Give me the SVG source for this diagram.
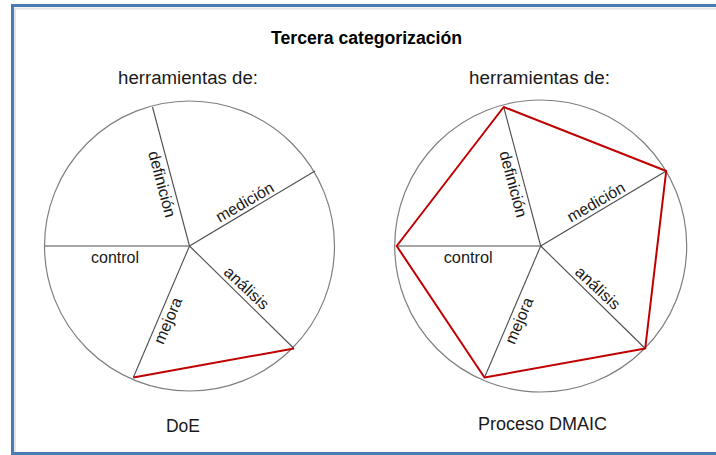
<svg xmlns="http://www.w3.org/2000/svg" width="716" height="455" viewBox="0 0 716 455">
<style>
.frame{fill:#ffffff;stroke:#4a7bb3;stroke-width:3}
.circ{fill:none;stroke:#7f7f7f;stroke-width:1.2}
.spoke{fill:none;stroke:#4d4d4d;stroke-width:1.1}
.red{fill:none;stroke:#c00000;stroke-width:2;stroke-linejoin:round}
.head{font-family:"Liberation Sans",Arial,sans-serif;font-size:18px;fill:#1a1a1a;text-anchor:middle}
.title{font-family:"Liberation Sans",Arial,sans-serif;font-size:17.5px;font-weight:bold;fill:#000;text-anchor:middle}
.lbl{font-family:"Liberation Sans",Arial,sans-serif;font-size:16px;fill:#1a1a1a;text-anchor:middle}
</style>
<rect width="716" height="455" fill="#ffffff"/>
<rect class="frame" x="12.5" y="5.5" width="720" height="448"/>
<path d="M15 452 V8.5 H716" fill="none" stroke="#e4e4e4" stroke-width="2"/>

<g id="title">
<text class="title" x="366.5" y="44" textLength="191" lengthAdjust="spacingAndGlyphs">Tercera categorización</text>
</g>

<g id="left">
<text class="head" x="188" y="84" textLength="140" lengthAdjust="spacingAndGlyphs">herramientas de:</text>
<circle class="circ" cx="189.5" cy="246" r="145"/>
<g class="connectors">
<line class="spoke" x1="189.5" y1="246" x2="152.5" y2="107"/>
<line class="spoke" x1="189.5" y1="246" x2="315" y2="171"/>
<line class="spoke" x1="189.5" y1="246" x2="294" y2="348.5"/>
<line class="spoke" x1="189.5" y1="246" x2="133.3" y2="377.5"/>
<line class="spoke" x1="189.5" y1="246" x2="45" y2="246"/>
<line class="red" x1="133.3" y1="377.5" x2="294" y2="348.5"/>
</g>
<g id="left-labels">
<text class="lbl" transform="translate(161.7 184.3) rotate(75)" y="5" textLength="68" lengthAdjust="spacingAndGlyphs">definición</text>
<text class="lbl" transform="translate(245 202.5) rotate(-30)" y="5" textLength="64" lengthAdjust="spacingAndGlyphs">medición</text>
<text class="lbl" transform="translate(246.3 288.3) rotate(43)" y="5" textLength="55" lengthAdjust="spacingAndGlyphs">análisis</text>
<text class="lbl" transform="translate(168.3 320.8) rotate(-67)" y="5" textLength="49" lengthAdjust="spacingAndGlyphs">mejora</text>
<text class="lbl" x="115" y="263" textLength="48" lengthAdjust="spacingAndGlyphs">control</text>
</g>
<text class="head" x="183" y="432" textLength="34" lengthAdjust="spacingAndGlyphs">DoE</text>
</g>

<g id="right">
<text class="head" x="539.5" y="84" textLength="141" lengthAdjust="spacingAndGlyphs">herramientas de:</text>
<g transform="translate(351.2 0)">
<circle class="circ" cx="189.5" cy="246" r="146"/>
<g class="connectors">
<line class="spoke" x1="189.5" y1="246" x2="152.5" y2="107"/>
<line class="spoke" x1="189.5" y1="246" x2="315" y2="171"/>
<line class="spoke" x1="189.5" y1="246" x2="294" y2="348.5"/>
<line class="spoke" x1="189.5" y1="246" x2="133.3" y2="377.5"/>
<line class="spoke" x1="189.5" y1="246" x2="45.5" y2="246"/>
<polygon class="red" points="152.5,107 315,171 294,348.5 133.3,377.5 45.5,246"/>
</g>
<g id="right-labels">
<text class="lbl" transform="translate(161.7 184.3) rotate(75)" y="5" textLength="68" lengthAdjust="spacingAndGlyphs">definición</text>
<text class="lbl" transform="translate(245 202.5) rotate(-30)" y="5" textLength="64" lengthAdjust="spacingAndGlyphs">medición</text>
<text class="lbl" transform="translate(246.3 288.3) rotate(43)" y="5" textLength="55" lengthAdjust="spacingAndGlyphs">análisis</text>
<text class="lbl" transform="translate(168.3 320.8) rotate(-67)" y="5" textLength="49" lengthAdjust="spacingAndGlyphs">mejora</text>
<text class="lbl" x="117" y="263" textLength="49" lengthAdjust="spacingAndGlyphs">control</text>
</g>
</g>
<text class="head" x="542.5" y="430" textLength="129" lengthAdjust="spacingAndGlyphs">Proceso DMAIC</text>
</g>
</svg>
